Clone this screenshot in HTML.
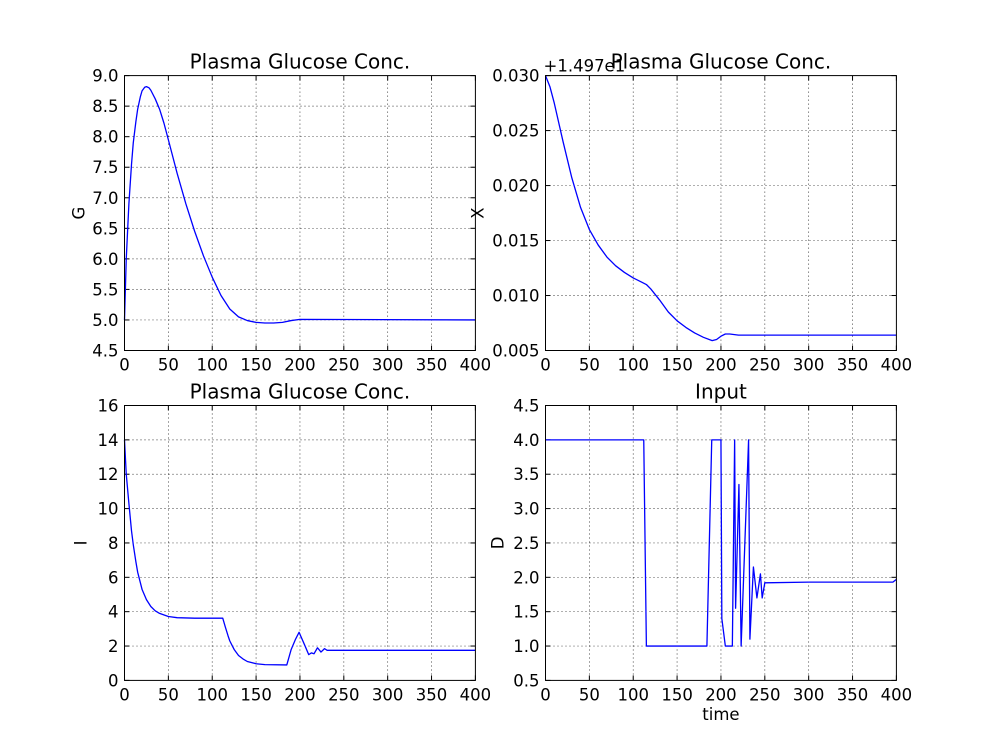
<!DOCTYPE html>
<html><head><meta charset="utf-8"><style>
body{margin:0;background:#fff}
svg{display:block;font-family:"DejaVu Sans","Liberation Sans",sans-serif}
</style></head><body>
<svg id="fig" width="996" height="756" viewBox="0 0 996 756" xmlns="http://www.w3.org/2000/svg">
<rect width="996" height="756" fill="#fff"/>
</svg>
<script>
const gT=[0,2,5,8,10,13,15,18,20,23,25,28,30,35,40,45,50,60,70,80,90,100,110,120,130,140,150,160,170,180,190,200,400];
const gV=[5.0,6.0,6.9,7.55,7.9,8.25,8.45,8.65,8.75,8.81,8.82,8.8,8.76,8.62,8.45,8.22,7.95,7.4,6.9,6.45,6.05,5.7,5.4,5.18,5.05,4.99,4.96,4.95,4.95,4.96,4.99,5.01,5.0];
const xT=[0,5,10,20,30,40,50,60,70,80,90,100,110,115,120,130,140,150,160,170,180,190,195,200,205,210,220,400];
const xV=[0.030,0.029,0.0275,0.024,0.0207,0.018,0.016,0.0146,0.0135,0.0127,0.0121,0.0116,0.0112,0.0110,0.0106,0.0096,0.0085,0.0077,0.0071,0.0066,0.0062,0.0059,0.0060,0.0063,0.0065,0.0065,0.0064,0.0064];
const iT=[0,2,5,8,10,13,15,18,20,25,30,35,40,50,60,80,112,115,118,120,123,125,130,135,140,150,160,185,190,195,199,205,210,213,216,220,224,228,231,235,400];
const iV=[14,12,10.3,8.7,7.9,6.9,6.3,5.7,5.3,4.7,4.3,4.05,3.9,3.72,3.65,3.62,3.62,3.1,2.6,2.3,2.0,1.8,1.45,1.25,1.1,0.97,0.92,0.9,1.8,2.4,2.8,2.1,1.5,1.6,1.55,1.9,1.65,1.85,1.75,1.75,1.75];
const dT=[0,112,115,184,189.5,200,201,205,213,215.6,216.7,220.5,223,231.5,233,237,241,245,247,250,300,350,396,400];
const dV=[4,4,1,1,4,4,1.4,1,1,4,1.55,3.35,1,4,1.1,2.15,1.7,2.05,1.7,1.92,1.93,1.93,1.93,1.97];
const xTicks=[0,50,100,150,200,250,300,350,400];
const gTicks=[4.5,5.0,5.5,6.0,6.5,7.0,7.5,8.0,8.5,9.0];
const xYTicks=[0.005,0.010,0.015,0.020,0.025,0.030];
const iTicks=[0,2,4,6,8,10,12,14,16];
const dTicks=[0.5,1.0,1.5,2.0,2.5,3.0,3.5,4.0,4.5];

const NS="http://www.w3.org/2000/svg";
const svg=document.getElementById('fig');
function mk(tag,attrs,parent,text){const e=document.createElementNS(NS,tag);for(const k in attrs)e.setAttribute(k,attrs[k]);if(text!==undefined)e.textContent=text;(parent||svg).appendChild(e);return e;}
function panel(o){
  const g=mk('g',{});
  
  
  const sx=v=>o.x+(v-0)/400*o.w, sy=v=>o.y+o.h-(v-o.ymin)/(o.ymax-o.ymin)*o.h;
  xTicks.forEach(t=>{const px=sx(t);
    if(t>0&&t<400){const l=mk('line',{x1:px,x2:px,y1:o.y,y2:o.y+o.h,stroke:'#000','stroke-width':0.7,'stroke-dasharray':'1,3'},g);}
    mk('line',{x1:px,x2:px,y1:o.y+o.h,y2:o.y+o.h-5,stroke:'#000'},g);
    mk('line',{x1:px,x2:px,y1:o.y,y2:o.y+5,stroke:'#000'},g);
    const tx=mk('text',{x:px,y:o.y+o.h+20,'font-size':16.5,'text-anchor':'middle'},g,String(t));
    
  });
  o.yt.forEach(t=>{const py=sy(t);
    if(t>o.ymin+1e-9&&t<o.ymax-1e-9){const l=mk('line',{x1:o.x,x2:o.x+o.w,y1:py,y2:py,stroke:'#000','stroke-width':0.7,'stroke-dasharray':'1,3'},g);}
    mk('line',{x1:o.x,x2:o.x+5,y1:py,y2:py,stroke:'#000'},g);
    mk('line',{x1:o.x+o.w,x2:o.x+o.w-5,y1:py,y2:py,stroke:'#000'},g);
    const tx=mk('text',{x:o.x-6,y:py+6,'font-size':16.5,'text-anchor':'end'},g,o.fmt(t));
    
  });
  const d=o.t.map((t,i)=>(i?'L':'M')+sx(t).toFixed(2)+','+sy(o.v[i]).toFixed(2)).join('');
  const p=mk('path',{d:d,fill:'none',stroke:'#0000ff','stroke-width':1.3,'stroke-linejoin':'round'},g);
  
  const fr=mk('rect',{x:o.x,y:o.y,width:o.w,height:o.h,fill:'none',stroke:'#000','stroke-width':1},g);
  
  const ti=mk('text',{x:o.x+o.w/2,y:o.y-7,'font-size':20,'text-anchor':'middle'},g,o.title);
  
  const yl=mk('text',{x:0,y:0,'font-size':16.5,'text-anchor':'middle',transform:`translate(${o.x-o.yl},${o.y+o.h/2}) rotate(-90)`},g,o.ylabel);
  
  return g;
}
const L1=124.5,L2=545.5,W=350.9,T1=75.6,T2=405.5,H=274.9;
panel({name:'glucose-g-plot',x:L1,y:T1,w:W,h:H,ymin:4.5,ymax:9,yt:gTicks,fmt:v=>v.toFixed(1),t:gT,v:gV,title:'Plasma Glucose Conc.',ylabel:'G',yl:40});
panel({name:'x-plot',x:L2,y:T1,w:W,h:H,ymin:0.005,ymax:0.030,yt:xYTicks,fmt:v=>v.toFixed(3),t:xT,v:xV,title:'Plasma Glucose Conc.',ylabel:'X',yl:62});
panel({name:'insulin-i-plot',x:L1,y:T2,w:W,h:H,ymin:0,ymax:16,yt:iTicks,fmt:v=>String(v),t:iT,v:iV,title:'Plasma Glucose Conc.',ylabel:'I',yl:38});
panel({name:'input-d-plot',x:L2,y:T2,w:W,h:H,ymin:0.5,ymax:4.5,yt:dTicks,fmt:v=>v.toFixed(1),t:dT,v:dV,title:'Input',ylabel:'D',yl:42});
const off=mk('text',{x:L2-2,y:T1-4,'font-size':16.5},svg,'+1.497e1');

const xl=mk('text',{x:L2+W/2,y:720,'font-size':16.5,'text-anchor':'middle'},svg,'time');

</script>
</body></html>
